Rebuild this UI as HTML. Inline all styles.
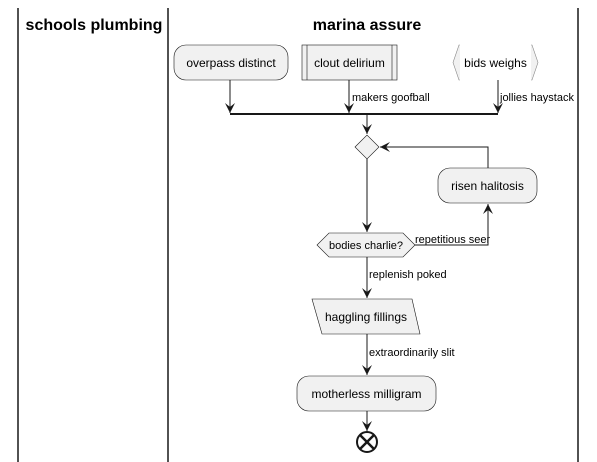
<!DOCTYPE html>
<html><head><meta charset="utf-8"><style>
html,body{margin:0;padding:0;background:#fff;}
svg{display:block;font-family:"Liberation Sans",sans-serif;}
</style></head><body>
<svg width="597" height="462" viewBox="0 0 597 462" xmlns="http://www.w3.org/2000/svg">
<defs>
<marker id="a" viewBox="0 0 12 12" refX="11" refY="6" markerWidth="12" markerHeight="12" orient="auto" markerUnits="userSpaceOnUse">
<path d="M1,1 L11,6 L1,11 L5,6 Z" fill="#181818"/>
</marker>
</defs>
<g stroke="#181818" stroke-width="1.5">
<line x1="18" y1="8" x2="18" y2="462"/>
<line x1="168" y1="8" x2="168" y2="462"/>
<line x1="578" y1="8" x2="578" y2="462"/>
</g>
<text x="94" y="30" font-size="16" font-weight="bold" text-anchor="middle">schools plumbing</text>
<text x="367" y="30" font-size="16" font-weight="bold" text-anchor="middle">marina assure</text>
<g fill="#F1F1F1" stroke="#181818" stroke-width="0.6">
<rect x="174" y="45" width="114" height="35" rx="12"/>
<rect x="302" y="45" width="95" height="35"/>
<line x1="307" y1="45" x2="307" y2="80"/><line x1="392" y1="45" x2="392" y2="80"/>
<path d="M459,45 L532,45 L538,62.5 L532,80 L459,80 L453,62.5 Z" stroke="#888"/>
<path d="M355,147 L367,135 L379,147 L367,159 Z"/>
<rect x="438" y="168" width="99" height="35" rx="12"/>
<path d="M329,233 L403,233 L415,245 L403,257 L329,257 L317,245 Z"/>
<path d="M312,299 L412,299 L420,334 L322,334 Z"/>
<rect x="297" y="376" width="139" height="35" rx="12"/>
</g>
<rect x="460" y="44" width="71" height="37" fill="#fff"/>
<g font-size="12" fill="#000" text-anchor="middle">
<text x="231" y="67">overpass distinct</text>
<text x="349.5" y="67">clout delirium</text>
<text x="495.5" y="67">bids weighs</text>
<text x="487.5" y="190">risen halitosis</text>
<text x="366" y="249" font-size="11">bodies charlie?</text>
<text x="366" y="321">haggling fillings</text>
<text x="366.5" y="398">motherless milligram</text>
</g>
<g font-size="11" fill="#000">
<text x="352" y="101">makers goofball</text>
<text x="500" y="101">jollies haystack</text>
<text x="415" y="243">repetitious seer</text>
<text x="369" y="278">replenish poked</text>
<text x="369" y="356">extraordinarily slit</text>
</g>
<g stroke="#181818" stroke-width="1" fill="none">
<line x1="230" y1="80" x2="230" y2="113" marker-end="url(#a)"/>
<line x1="349" y1="80" x2="349" y2="113" marker-end="url(#a)"/>
<line x1="498" y1="80" x2="498" y2="113" marker-end="url(#a)"/>
<line x1="230" y1="114" x2="498" y2="114" stroke-width="2"/>
<line x1="367" y1="114" x2="367" y2="134" marker-end="url(#a)"/>
<line x1="367" y1="159" x2="367" y2="232" marker-end="url(#a)"/>
<polyline points="415,245 488,245 488,204" marker-end="url(#a)"/>
<polyline points="488,168 488,147 380,147" marker-end="url(#a)"/>
<line x1="367" y1="257" x2="367" y2="298" marker-end="url(#a)"/>
<line x1="367" y1="334" x2="367" y2="375" marker-end="url(#a)"/>
<line x1="367" y1="411" x2="367" y2="431" marker-end="url(#a)"/>
</g>
<circle cx="367" cy="442" r="10" fill="#fff" stroke="#181818" stroke-width="2"/>
<g stroke="#181818" stroke-width="2.5"><line x1="360" y1="435" x2="374" y2="449"/><line x1="374" y1="435" x2="360" y2="449"/></g>
</svg>
</body></html>
